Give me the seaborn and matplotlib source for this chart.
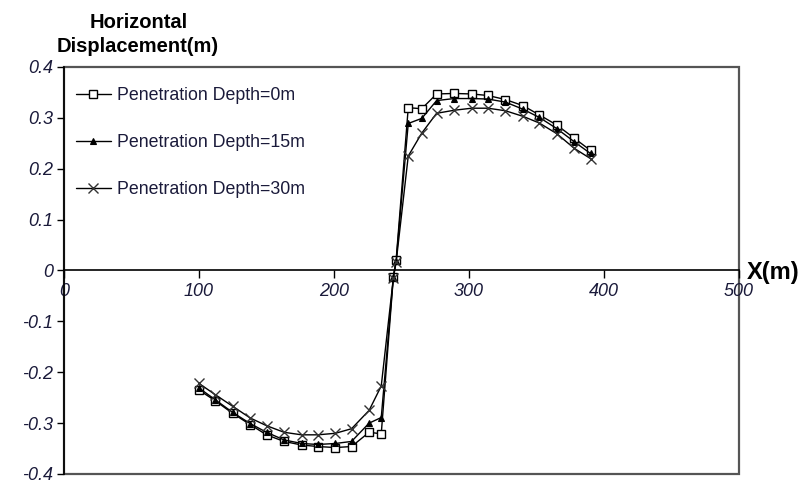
import numpy as np
import pandas as pd
import matplotlib
matplotlib.use("Agg")
import matplotlib.pyplot as plt
import seaborn as sns
from matplotlib.patches import Rectangle

# ---- data ----
x_pos = [100, 112, 125, 138, 150, 163, 176, 188, 201, 213, 226, 235, 244,
         246, 255, 265, 276, 289, 302, 314, 327, 340, 352, 365, 378, 390]
depth_0m = [-0.235, -0.256, -0.281, -0.303, -0.323, -0.336, -0.343, -0.346,
            -0.348, -0.346, -0.318, -0.321, -0.012,
            0.020, 0.320, 0.318, 0.347, 0.348, 0.347, 0.344, 0.336, 0.324,
            0.306, 0.286, 0.260, 0.236]
depth_15m = [-0.231, -0.254, -0.279, -0.301, -0.318, -0.333, -0.340, -0.342,
             -0.340, -0.336, -0.300, -0.289, -0.012,
             0.018, 0.289, 0.299, 0.334, 0.338, 0.338, 0.337, 0.331, 0.317,
             0.301, 0.279, 0.253, 0.230]
depth_30m = [-0.222, -0.244, -0.267, -0.290, -0.305, -0.318, -0.323, -0.323,
             -0.320, -0.311, -0.275, -0.227, -0.014,
             0.016, 0.225, 0.270, 0.309, 0.315, 0.319, 0.319, 0.314, 0.303,
             0.290, 0.269, 0.240, 0.220]
series_names = ["Penetration Depth=0m", "Penetration Depth=15m", "Penetration Depth=30m"]
x_ticks = [0, 100, 200, 300, 400, 500]
x_tick_labels = ["0", "100", "200", "300", "400", "500"]
y_ticks = [-0.4, -0.3, -0.2, -0.1, 0, 0.1, 0.2, 0.3, 0.4]
y_tick_labels = ["-0.4", "-0.3", "-0.2", "-0.1", "0", "0.1", "0.2", "0.3", "0.4"]

df = pd.DataFrame({
    "x": x_pos * 3,
    "u": depth_0m + depth_15m + depth_30m,
    "series": [series_names[0]] * len(x_pos) + [series_names[1]] * len(x_pos)
              + [series_names[2]] * len(x_pos),
})

sns.set_style("white")
plt.rcParams["font.family"] = ["Liberation Sans", "DejaVu Sans"]

fig = plt.figure(figsize=(8.04, 4.84), dpi=100)
W, H = 804, 484
ax = fig.add_axes([64 / W, 1 - 474 / H, (739 - 64) / W, (474 - 67) / H])

styles = [
    dict(marker="s", markersize=5.5, markerfacecolor="white", markeredgecolor="black",
         markeredgewidth=1.0, color="black", linewidth=1.0),
    dict(marker="^", markersize=4.5, markerfacecolor="black", markeredgecolor="black",
         markeredgewidth=0.8, color="black", linewidth=1.0),
    dict(marker="x", markersize=7, markerfacecolor="none", markeredgecolor="#333333",
         markeredgewidth=1.0, color="black", linewidth=1.0),
]
for name, st in zip(series_names, styles):
    sub = df[df["series"] == name]
    sns.lineplot(data=sub, x="x", y="u", ax=ax, sort=False, estimator=None,
                 label=name, **st)

lab_color = "#1a1a3a"
# spine placement first (it resets tick properties)
ax.spines["bottom"].set_position(("data", 0))
ax.spines["bottom"].set_color("black")
ax.spines["bottom"].set_linewidth(1.2)
ax.spines["left"].set_color("black")
ax.spines["left"].set_linewidth(1.2)
ax.spines["top"].set_visible(False)
ax.spines["right"].set_visible(False)

ax.set_xlim(0, 500)
ax.set_ylim(-0.4, 0.4)
ax.set_xticks(x_ticks)
ax.set_xticklabels(x_tick_labels, fontstyle="italic", fontsize=13, color=lab_color)
ax.set_yticks(y_ticks)
ax.set_yticklabels(y_tick_labels, fontstyle="italic", fontsize=13, color=lab_color)
ax.set_xlabel("")
ax.set_ylabel("")

ax.add_patch(Rectangle((0, 0), 1, 1, transform=ax.transAxes, fill=False,
                       edgecolor="#555555", linewidth=1.6, clip_on=False, zorder=0))
ax.tick_params(axis="x", direction="out", length=6, width=1, color="black", pad=3,
               bottom=True)
ax.tick_params(axis="y", direction="out", length=5, width=1, color="black", pad=3,
               left=True)

leg = ax.legend(loc="upper left", bbox_to_anchor=(76 / W, 1 - 87 / H),
                bbox_transform=fig.transFigure, frameon=False, fontsize=12.8,
                handlelength=1.95, handletextpad=0.35, labelspacing=1.7,
                borderpad=0, borderaxespad=0)
for t in leg.get_texts():
    t.set_color(lab_color)

fig.text(139 / W, 1 - 22 / H, "Horizontal", ha="center", va="center",
         fontsize=14.5, fontweight="bold", color="black")
fig.text(138 / W, 1 - 47 / H, "Displacement(m)", ha="center", va="center",
         fontsize=14.5, fontweight="bold", color="black")
fig.text(747 / W, 1 - 272 / H, "X(m)", ha="left", va="center",
         fontsize=17, fontweight="bold", color="black")

fig.savefig("out.png", dpi=100)
